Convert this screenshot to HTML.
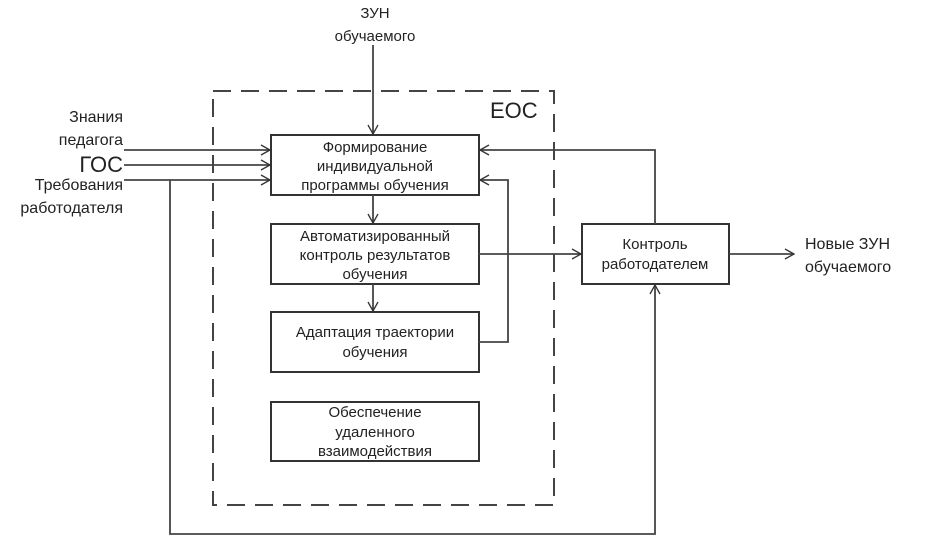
<!DOCTYPE html>
<html><head><meta charset="utf-8"><style>
html,body{margin:0;padding:0;background:#fff;}
svg{display:block;}
text{font-family:"Liberation Sans",sans-serif;fill:#222;}
</style></head><body>
<svg width="933" height="544" viewBox="0 0 933 544" xmlns="http://www.w3.org/2000/svg">
<defs>
<marker id="a" markerWidth="12" markerHeight="12" refX="10" refY="6" orient="auto" markerUnits="userSpaceOnUse">
<path d="M1,1 L10,6 L1,11" fill="none" stroke="#333" stroke-width="1.3"/>
</marker>
</defs>
<g stroke="#333" stroke-width="2" fill="none">
<!-- dashed EOC -->
<path d="M213,91 H554 V505 H213 Z" stroke-dasharray="18,10" stroke="#444"/>
<!-- boxes -->
<rect x="271" y="135" width="208" height="60" fill="#fff"/>
<rect x="271" y="224" width="208" height="60" fill="#fff"/>
<rect x="271" y="312" width="208" height="60" fill="#fff"/>
<rect x="271" y="402" width="208" height="59" fill="#fff"/>
<rect x="582" y="224" width="147" height="60" fill="#fff"/>
</g>
<g stroke="#444" stroke-width="1.8" fill="none">
<line x1="373" y1="45" x2="373" y2="134" marker-end="url(#a)"/>
<line x1="124" y1="150" x2="270" y2="150" marker-end="url(#a)"/>
<line x1="124" y1="165" x2="270" y2="165" marker-end="url(#a)"/>
<line x1="124" y1="180" x2="270" y2="180" marker-end="url(#a)"/>
<line x1="373" y1="195" x2="373" y2="223" marker-end="url(#a)"/>
<line x1="373" y1="284" x2="373" y2="311" marker-end="url(#a)"/>
<polyline points="479,342 508,342 508,180 480,180" marker-end="url(#a)"/>
<line x1="479" y1="254" x2="581" y2="254" marker-end="url(#a)"/>
<line x1="729" y1="254" x2="794" y2="254" marker-end="url(#a)"/>
<polyline points="655,224 655,150 480,150" marker-end="url(#a)"/>
<polyline points="170,180 170,534 655,534 655,285" marker-end="url(#a)"/>
</g>
<g font-size="15" text-anchor="middle">
<text x="375" y="18">ЗУН</text>
<text x="375" y="41">обучаемого</text>
<text x="375" y="152">Формирование</text>
<text x="375" y="171">индивидуальной</text>
<text x="375" y="190">программы обучения</text>
<text x="375" y="241">Автоматизированный</text>
<text x="375" y="260">контроль результатов</text>
<text x="375" y="279">обучения</text>
<text x="375" y="337">Адаптация траектории</text>
<text x="375" y="357">обучения</text>
<text x="375" y="417">Обеспечение</text>
<text x="375" y="437">удаленного</text>
<text x="375" y="456">взаимодействия</text>
<text x="655" y="249">Контроль</text>
<text x="655" y="269">работодателем</text>
</g>
<g font-size="16" text-anchor="start">
<text x="805" y="249">Новые ЗУН</text>
<text x="805" y="272">обучаемого</text>
</g>
<text x="490" y="118" font-size="22">ЕОС</text>
<g text-anchor="end" font-size="16">
<text x="123" y="122">Знания</text>
<text x="123" y="145">педагога</text>
<text x="123" y="172" font-size="22">ГОС</text>
<text x="123" y="190">Требования</text>
<text x="123" y="213">работодателя</text>
</g>
</svg>
</body></html>
